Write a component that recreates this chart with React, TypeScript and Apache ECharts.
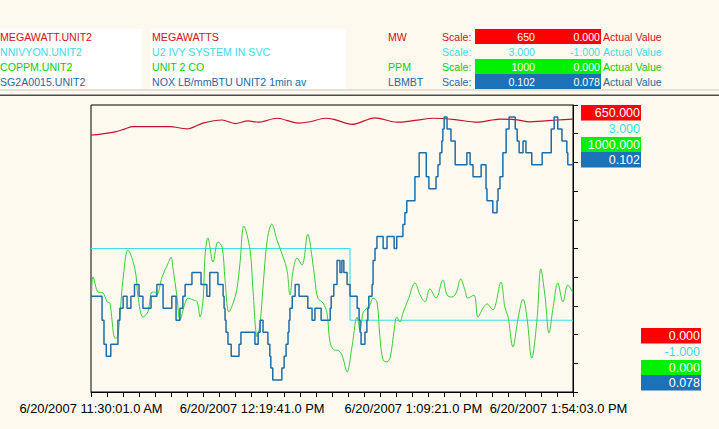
import React, { useEffect, useRef } from 'react';
import * as echarts from 'echarts';

const FONT = '"Liberation Sans", Arial, Helvetica, sans-serif';
const BG = '#FDF9EE';

// ---- header / legend texts ----
const tagNames = ['MEGAWATT.UNIT2', 'NNIVYON.UNIT2', 'COPPM.UNIT2', 'SG2A0015.UNIT2'];
const descriptions = ['MEGAWATTS', 'U2 IVY SYSTEM IN SVC', 'UNIT 2 CO', 'NOX LB/mmBTU UNIT2 1min av'];
const units = ['MW', '', 'PPM', 'LBMBT'];
const scaleHighTexts = ['650', '3.000', '1000', '0.102'];
const scaleLowTexts = ['0.000', '-1.000', '0.000', '0.078'];
const axisHighTexts = ['650.000', '3.000', '1000.000', '0.102'];
const axisLowTexts = ['0.000', '-1.000', '0.000', '0.078'];
const scaleMin = [0, -1, 0, 0.078];
const scaleMax = [650, 3, 1000, 0.102];

const textColors = ['#D0101C', '#3FD9E6', '#0CCC0C', '#1D6AA5'];
const boxColors = ['#FF0000', '', '#00F000', '#1C72B6'];
const lineColors = ['#C8102A', '#3EE0E6', '#35CF35', '#1F6DA8'];

// ---- x axis (minutes after 11:30:01 AM) ----
const xMax = 148.5;
const xTickStep = 4.95;
const xLabelTimes = [0, 49 + 40 / 60, 99 + 20 / 60, 144 + 2 / 60];
const xLabelTexts = [
  '6/20/2007 11:30:01.0 AM',
  '6/20/2007 12:19:41.0 PM',
  '6/20/2007 1:09:21.0 PM',
  '6/20/2007 1:54:03.0 PM',
];

// ---- series data ----
const mwTimes = [0, 3, 7.4, 10.5, 12.9, 18.2, 24.3, 29.6, 34.5, 40.4, 44.4, 48.4, 51.5, 57.3, 63.8, 67.5, 72.1, 75.1, 80.4, 87.5, 94.3, 99.8, 105.4, 112.2, 118.9, 126.0, 130.6, 135.3, 143.6, 148.5];
const mwValues = [582, 584, 589, 596, 601, 601, 601, 596, 609, 616, 608, 614, 611, 620, 609, 612, 620, 617, 606, 621, 611, 615, 620, 617, 611, 618, 617, 612, 616, 618];

const ivyTimes = [0, 79.8, 148.5];
const ivyValues = [1, 0, 0];

const coTimes = [0.2, 0.6, 2.2, 3.7, 5.0, 5.8, 7.4, 8.0, 8.9, 9.9,
  11.4, 13.6, 14.5, 16.0, 17.5, 18.8, 19.7, 20.3, 21.9, 23.5,
  24.7, 25.2, 26.5, 27.4, 29.0, 29.9, 31.4, 32.7, 33.6, 34.6,
  35.1, 36.0, 37.6, 39.1, 40.4, 41.3, 42.5, 43.8, 44.9, 45.9,
  47.1, 49.0, 49.9, 51.2, 52.1, 53.0, 54.3, 55.7, 57.3, 59.2,
  60.4, 61.3, 62.3, 63.5, 65.0, 66.8, 68.1, 69.0, 69.9, 71.5,
  72.7, 73.7, 75.1, 75.8, 77.3, 78.9, 80.4, 82.0, 82.9, 83.8,
  85.0, 85.9, 86.9, 88.1, 89.0, 90.0, 91.2, 92.2, 93.4, 94.2,
  95.2, 96.1, 97.7, 99.8, 101.4, 102.9, 104.4, 106.3, 108.4, 109.7,
  111.2, 112.5, 113.9, 115.2, 116.1, 118.0, 119.2, 120.8, 122.0, 123.8,
  126.3, 127.5, 128.5, 130.0, 131.6, 133.1, 134.3, 135.8, 137.4, 138.6,
  139.9, 141.1, 142.4, 143.8, 145.4, 146.9, 148.5];
const coValues = [348, 401, 348, 345, 314, 310, 188, 188, 268, 397,
  495, 425, 331, 261, 279, 348, 348, 338, 401, 442,
  470, 436, 331, 251, 310, 327, 321, 314, 261, 331,
  470, 537, 453, 523, 505, 390, 279, 310, 355, 449,
  578, 495, 355, 192, 240, 366, 530, 585, 530, 470,
  425, 338, 425, 467, 442, 550, 470, 390, 327, 310,
  275, 171, 146, 146, 129, 70, 157, 261, 216, 275,
  293, 303, 327, 314, 192, 111, 105, 122, 216, 261,
  244, 275, 321, 380, 338, 314, 359, 327, 390, 338,
  331, 345, 394, 355, 327, 338, 261, 293, 307, 286,
  383, 296, 261, 157, 258, 324, 261, 118, 251, 429,
  331, 206, 296, 380, 314, 373, 345];

const noxTimes = [0, 3.4, 4.0, 4.7, 6.1, 8.3, 8.9, 9.9, 11.1, 12.3,
  13.4, 14.8, 16.0, 18.5, 20.3, 22.2, 24.9, 26.2, 27.4, 28.3,
  29.0, 31.1, 33.9, 35.7, 36.6, 39.1, 40.7, 41.0, 41.3, 41.6,
  42.2, 43.2, 45.6, 46.2, 50.5, 51.5, 52.1, 53.0, 54.5, 55.1,
  55.4, 56.0, 58.8, 59.5, 60.1, 60.7, 61.0, 61.3, 62.0, 62.9,
  64.1, 66.8, 68.1, 69.0, 70.9, 73.7, 74.0, 74.8, 75.8, 76.7,
  77.3, 77.9, 78.9, 79.8, 82.0, 82.6, 82.9, 83.2, 84.4, 85.0,
  85.3, 85.6, 86.6, 86.9, 87.5, 88.1, 90.0, 91.2, 93.4, 94.2,
  96.1, 96.7, 97.3, 99.8, 101.1, 103.3, 104.1, 106.3, 106.9, 107.5,
  108.1, 108.4, 108.8, 109.7, 110.9, 112.2, 115.8, 116.8, 117.7, 120.2,
  121.7, 122.0, 123.8, 125.1, 125.4, 126.0, 126.9, 127.9, 128.8, 130.7,
  131.3, 131.9, 133.1, 134.0, 135.8, 139.0, 141.8, 142.7, 143.8, 145.1,
  146.6, 146.9, 148.5];
const noxValues = [0.086, 0.084, 0.082, 0.081, 0.082, 0.084, 0.085, 0.086, 0.085, 0.086,
  0.087, 0.086, 0.085, 0.086, 0.087, 0.085, 0.086, 0.084, 0.085, 0.086,
  0.087, 0.088, 0.087, 0.086, 0.088, 0.087, 0.086, 0.085, 0.084, 0.083,
  0.082, 0.081, 0.082, 0.083, 0.082, 0.083, 0.084, 0.083, 0.082, 0.081,
  0.080, 0.079, 0.080, 0.081, 0.082, 0.083, 0.084, 0.085, 0.086, 0.087,
  0.086, 0.085, 0.084, 0.085, 0.084, 0.085, 0.086, 0.087, 0.089, 0.088,
  0.089, 0.088, 0.087, 0.086, 0.085, 0.084, 0.083, 0.082, 0.083, 0.084,
  0.085, 0.086, 0.087, 0.089, 0.090, 0.091, 0.090, 0.091, 0.090, 0.091,
  0.092, 0.093, 0.094, 0.096, 0.098, 0.096, 0.095, 0.096, 0.097, 0.098,
  0.099, 0.100, 0.101, 0.100, 0.099, 0.097, 0.098, 0.097, 0.096, 0.097,
  0.095, 0.094, 0.093, 0.094, 0.095, 0.096, 0.098, 0.100, 0.101, 0.100,
  0.099, 0.098, 0.099, 0.098, 0.097, 0.098, 0.100, 0.101, 0.100, 0.099,
  0.098, 0.097, 0.097];

const zip = (a: number[], b: number[]) => a.map((t, i) => [t, b[i]]);

function buildGraphics() {
  const g: any[] = [];
  const hdrFont = `10.6px ${FONT}`;
  const boxFont = `12.5px ${FONT}`;
  // white backgrounds behind the tag / description columns
  g.push({ type: 'rect', shape: { x: 0, y: 29, width: 142, height: 60 }, style: { fill: '#FFFFFF' }, silent: true });
  g.push({ type: 'rect', shape: { x: 150, y: 29, width: 196, height: 60 }, style: { fill: '#FFFFFF' }, silent: true });
  // separator lines
  g.push({ type: 'rect', shape: { x: 0, y: 89, width: 719, height: 2 }, style: { fill: '#E4E0D4' }, silent: true });
  g.push({ type: 'rect', shape: { x: 0, y: 94.5, width: 719, height: 1.5 }, style: { fill: '#4C4C4C' }, silent: true });

  const rowTops = [29, 44, 59, 74];
  for (let i = 0; i < 4; i++) {
    const top = rowTops[i];
    const cy = top + 7.5;
    const c = textColors[i];
    const t = (text: string, x: number, fill: string, align = 'left', font = hdrFont) => ({
      type: 'text', x, y: cy, silent: true,
      style: { text, fill, font, align, verticalAlign: 'middle' },
    });
    g.push(t(tagNames[i], 0, c));
    g.push(t(descriptions[i], 152, c));
    if (units[i]) g.push(t(units[i], 388, c));
    g.push(t('Scale:', 442, c));
    if (boxColors[i]) {
      g.push({ type: 'rect', silent: true, shape: { x: 475, y: top, width: 126, height: 15 }, style: { fill: boxColors[i] } });
    }
    const inner = boxColors[i] ? '#FFFFFF' : c;
    g.push(t(scaleHighTexts[i], 535, inner, 'right'));
    g.push(t(scaleLowTexts[i], 600, inner, 'right'));
    g.push(t('Actual Value', 603, c));
  }

  // right side scale boxes
  const topRows = [105, 121, 137, 152];
  const lowRows = [328, 344, 360, 375];
  for (let i = 0; i < 4; i++) {
    const inner = boxColors[i] ? '#FFFFFF' : textColors[i];
    if (boxColors[i]) {
      g.push({ type: 'rect', silent: true, shape: { x: 581, y: topRows[i], width: 60, height: 15.5 }, style: { fill: boxColors[i] } });
      g.push({ type: 'rect', silent: true, shape: { x: 641, y: lowRows[i], width: 60, height: 15.5 }, style: { fill: boxColors[i] } });
    }
    g.push({ type: 'text', x: 640, y: topRows[i] + 8, silent: true, style: { text: axisHighTexts[i], fill: inner, font: boxFont, align: 'right', verticalAlign: 'middle' } });
    g.push({ type: 'text', x: 700, y: lowRows[i] + 8, silent: true, style: { text: axisLowTexts[i], fill: inner, font: boxFont, align: 'right', verticalAlign: 'middle' } });
  }
  return g;
}

export default function App() {
  const ref = useRef<HTMLDivElement>(null);
  useEffect(() => {
    document.body.style.margin = '0';
    document.body.style.background = BG;
    const chart = echarts.init(ref.current!, null, { renderer: 'svg' });
    const hiddenY = (i: number) => ({ type: 'value', min: scaleMin[i], max: scaleMax[i], show: false, splitLine: { show: false }, axisLine: { onZero: false } });
    chart.setOption({
      animation: false,
      backgroundColor: BG,
      grid: { left: 91, top: 105, width: 482, height: 287, show: true, borderColor: '#000', borderWidth: 1, backgroundColor: 'transparent' },
      xAxis: {
        type: 'value', min: 0, max: xMax, interval: xTickStep,
        axisLine: { show: true, onZero: false, lineStyle: { color: '#000', width: 1 } },
        axisTick: { show: true, length: 5, lineStyle: { color: '#000' } },
        splitLine: { show: false },
        axisLabel: {
          customValues: xLabelTimes,
          color: '#000', fontFamily: FONT, fontSize: 12.9, margin: 10,
          formatter: (v: number) => {
            const i = xLabelTimes.findIndex((t) => Math.abs(t - v) < 0.01);
            return i >= 0 ? xLabelTexts[i] : '';
          },
        },
      },
      yAxis: [
        {
          type: 'value', min: scaleMin[0], max: scaleMax[0], interval: 65, position: 'right',
          axisLine: { show: true, onZero: false, lineStyle: { color: '#000', width: 1 } },
          axisTick: { show: true, length: 5, inside: false, lineStyle: { color: '#000' } },
          axisLabel: { show: false }, splitLine: { show: false },
        },
        hiddenY(1), hiddenY(2), hiddenY(3),
      ],
      series: [
        { type: 'line', name: tagNames[0], yAxisIndex: 0, data: zip(mwTimes, mwValues), smooth: 0.3, symbol: 'none', silent: true, lineStyle: { color: lineColors[0], width: 1.2 } },
        { type: 'line', name: tagNames[1], yAxisIndex: 1, data: zip(ivyTimes, ivyValues), step: 'end', symbol: 'none', silent: true, lineStyle: { color: lineColors[1], width: 1.2 } },
        { type: 'line', name: tagNames[2], yAxisIndex: 2, data: zip(coTimes, coValues), smooth: 0.35, symbol: 'none', silent: true, lineStyle: { color: lineColors[2], width: 1 } },
        { type: 'line', name: tagNames[3], yAxisIndex: 3, data: zip(noxTimes, noxValues), step: 'end', symbol: 'none', silent: true, lineStyle: { color: lineColors[3], width: 1.5 } },
      ],
      graphic: buildGraphics(),
    });
    return () => chart.dispose();
  }, []);
  return <div ref={ref} style={{ width: 719, height: 429 }} />;
}
